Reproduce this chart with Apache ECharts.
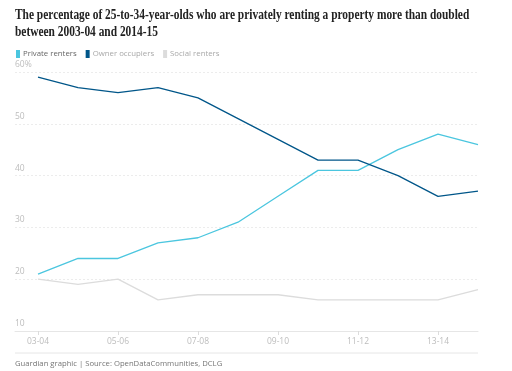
<!DOCTYPE html>
<html><head><meta charset="utf-8">
<script src="https://cdn.jsdelivr.net/npm/echarts@6/dist/echarts.min.js"></script>
<style>html,body{margin:0;padding:0;background:#fff}#c{width:512px;height:371px}</style>
</head><body><div id="c"></div>
<script>
const categories = ['03-04','04-05','05-06','06-07','07-08','08-09','09-10','10-11','11-12','12-13','13-14','14-15'];
const privateRenters = [21,24,24,27,28,31,36,41,41,45,48,46];
const ownerOccupiers = [59,57,56,57,55,51,47,43,43,40,36,37];
const socialRenters = [20,19,20,16,17,17,17,16,16,16,16,18];
const labelIdx = [0,2,4,6,8,10];

const toPts = arr => arr.map((v,i)=>[i,v]);
const chart = echarts.init(document.getElementById('c'));
chart.setOption({
  animation:false,
  title:[{
    text:'Guardian graphic | Source: OpenDataCommunities, DCLG',
    left:10, top:355,
    textStyle:{fontFamily:'Open Sans', fontWeight:'normal', fontSize:7.7, color:'#767676'}
  }],
  legend:{
    left:11, top:45, icon:'rect', itemWidth:4, itemHeight:8, itemGap:9,
    textStyle:{fontFamily:'Open Sans', fontSize:7.8, color:'#a8a8a8', padding:[0,0,0,-2]},
    data:[{name:'Private renters', textStyle:{color:'#666'}},'Owner occupiers','Social renters']
  },
  grid:{left:15, right:34, top:72, bottom:40},
  xAxis:{
    type:'value', min:-0.575, max:11,
    splitLine:{show:false},
    axisLine:{lineStyle:{color:'#e6e6e6'}},
    axisTick:{show:true, customValues:labelIdx, length:4, lineStyle:{color:'#dcdcdc'}},
    axisLabel:{customValues:labelIdx, formatter:v=>categories[Math.round(v)], color:'#bdbdbd', fontFamily:'Open Sans', fontSize:8.5, margin:6}
  },
  yAxis:{
    type:'value', min:10, max:60, interval:10,
    axisLine:{show:false}, axisTick:{show:false},
    splitLine:{lineStyle:{color:'#ececec', type:[2,2]}},
    axisLabel:{inside:true, verticalAlign:'bottom', margin:0, color:'#bdbdbd', fontFamily:'Open Sans', fontSize:8.5, padding:[0,0,3,0],
      formatter:v=> v===60 ? '60%' : String(v)}
  },
  series:[
    {name:'Private renters', type:'line', data:toPts(privateRenters), symbol:'none', color:'#4bc6df', lineStyle:{width:1.3}, z:3},
    {name:'Owner occupiers', type:'line', data:toPts(ownerOccupiers), symbol:'none', color:'#005689', lineStyle:{width:1.3}, z:4},
    {name:'Social renters', type:'line', data:toPts(socialRenters), symbol:'none', color:'#dcdcdc', lineStyle:{width:1.3}, z:2}
  ],
  graphic:[
    {type:'line', shape:{x1:15,y1:353,x2:478,y2:353}, style:{stroke:'#e6e6e6', lineWidth:1}},
    {type:'text', left:15, top:7, scaleX:0.815,
     style:{text:'The percentage of 25-to-34-year-olds who are privately renting a property more than doubled\nbetween 2003-04 and 2014-15',
       font:'bold 14px "Liberation Serif"', fill:'#222', lineHeight:17}}
  ]
});
</script></body></html>
